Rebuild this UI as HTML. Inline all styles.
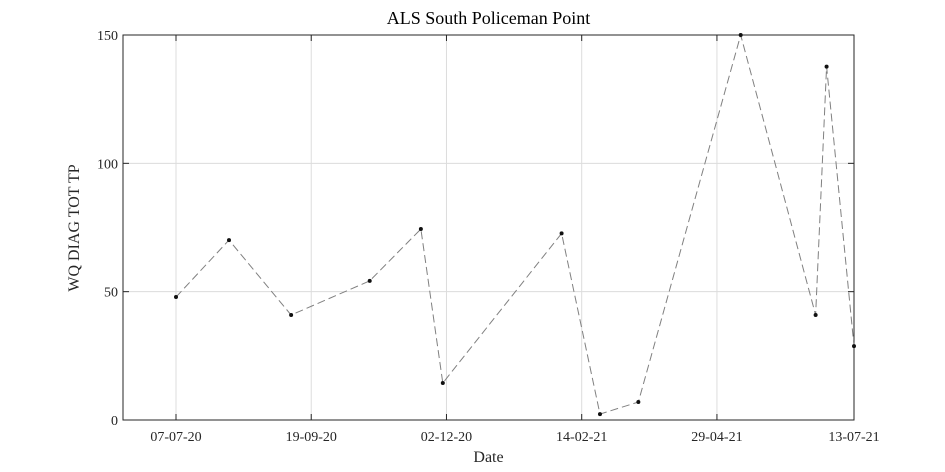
<!DOCTYPE html>
<html><head><meta charset="utf-8"><style>
body{margin:0;background:#fff;}
svg{display:block;font-family:"Liberation Serif",serif;}
</style></head><body>
<svg id="chart" width="945" height="472"></svg>
<script>
const dates=["2020-07-07","2020-08-05","2020-09-08","2020-10-21","2020-11-18","2020-11-30","2021-02-03","2021-02-24","2021-03-17","2021-05-12","2021-06-22","2021-06-28","2021-07-13"];
const values=[47.9,70.1,40.9,54.2,74.4,14.4,72.7,2.3,7.0,150,40.9,137.7,28.8];
const xTickDates=["2020-07-07","2020-09-19","2020-12-02","2021-02-14","2021-04-29","2021-07-13"];
const xTickLabels=["07-07-20","19-09-20","02-12-20","14-02-21","29-04-21","13-07-21"];
const yTicks=[0,50,100,150];

const NS="http://www.w3.org/2000/svg";
const svg=document.getElementById('chart');
const L=123,R=854,T=35,B=420;
const t0=Date.parse("2020-06-08"),t1=Date.parse("2021-07-13");
const xs=d=>L+(Date.parse(d)-t0)/(t1-t0)*(R-L);
const ys=v=>B-v/150*(B-T);
function mk(tag,a,parent){const e=document.createElementNS(NS,tag);for(const k in a)e.setAttribute(k,a[k]);(parent||svg).appendChild(e);return e;}

const grid=mk('g',{});


xTickDates.forEach((d,i)=>{
  const x=xs(d);
  mk('line',{x1:x,x2:x,y1:T,y2:B,stroke:'#dcdcdc','stroke-width':1},grid);
  const tk=mk('line',{x1:x,x2:x,y1:B,y2:B-6,stroke:'#262626'});
  
  
  mk('line',{x1:x,x2:x,y1:T,y2:T+6,stroke:'#262626'});
  const t=mk('text',{x:x,y:B+21,'text-anchor':'middle','font-size':14,fill:'#262626'});
  t.textContent=xTickLabels[i];
  
  
});
yTicks.forEach(v=>{
  const y=ys(v);
  mk('line',{x1:L,x2:R,y1:y,y2:y,stroke:'#dcdcdc','stroke-width':1},grid);
  mk('line',{x1:L,x2:L+6,y1:y,y2:y,stroke:'#262626'});
  mk('line',{x1:R,x2:R-6,y1:y,y2:y,stroke:'#262626'});
  const t=mk('text',{x:L-5,y:y+5,'text-anchor':'end','font-size':14,fill:'#262626'});
  t.textContent=v;
  
  
});
const box=mk('rect',{x:L,y:T,width:R-L,height:B-T,fill:'none',stroke:'#262626','stroke-width':1});



const pts=dates.map((d,i)=>xs(d)+','+ys(values[i])).join(' ');
const line=mk('polyline',{points:pts,fill:'none',stroke:'#808080','stroke-width':1,'stroke-dasharray':'8,4'});


dates.forEach((d,i)=>{
  const c=mk('circle',{cx:xs(d),cy:ys(values[i]),r:2,fill:'#111'});
  
  
});

const title=mk('text',{x:(L+R)/2,y:24,'text-anchor':'middle','font-size':18,fill:'#000'});
title.textContent='ALS South Policeman Point';


const xl=mk('text',{x:(L+R)/2,y:462,'text-anchor':'middle','font-size':16,fill:'#262626'});
xl.textContent='Date';


const yl=mk('text',{x:0,y:0,'text-anchor':'middle','font-size':16,fill:'#262626',transform:'translate(79,228) rotate(-90)'});
yl.textContent='WQ DIAG TOT TP';


</script>
</body></html>
